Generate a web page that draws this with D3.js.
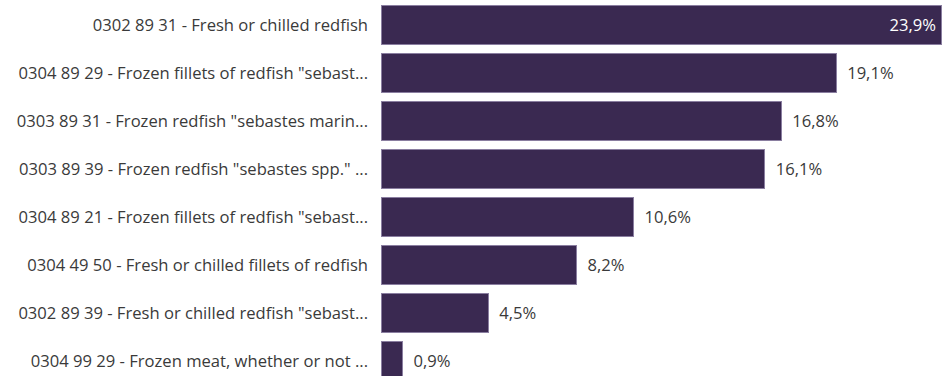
<!DOCTYPE html>
<html>
<head>
<meta charset="utf-8">
<script src="https://cdn.jsdelivr.net/npm/d3@7"></script>
<style>
  html, body { margin: 0; padding: 0; background: #ffffff; }
  svg { display: block; }
  text { font-family: "Open Sans", "Noto Sans", sans-serif; }
</style>
</head>
<body>
<div id="chart"></div>
<script>
// Share of imports by CN product code (%)
const categories = [
  "0302 89 31 - Fresh or chilled redfish",
  "0304 89 29 - Frozen fillets of redfish \"sebast...",
  "0303 89 31 - Frozen redfish \"sebastes marin...",
  "0303 89 39 - Frozen redfish \"sebastes spp.\" ...",
  "0304 89 21 - Frozen fillets of redfish \"sebast...",
  "0304 49 50 - Fresh or chilled fillets of redfish",
  "0302 89 39 - Fresh or chilled redfish \"sebast...",
  "0304 99 29 - Frozen meat, whether or not ..."
];
const shares = [23.9, 19.1, 16.8, 16.1, 10.6, 8.2, 4.5, 0.9];

const width = 944, height = 376;
const barLeft = 381, barRight = 941;
const labelRight = 368;
const fontSize = 16.6;

const svg = d3.select("#chart").append("svg")
  .attr("width", width)
  .attr("height", height);

const x = d3.scaleLinear()
  .domain([0, 23.5])
  .range([barLeft, barRight])
  .clamp(true);

const y = d3.scaleBand()
  .domain(categories)
  .range([1, 1 + 48 * categories.length])
  .paddingInner(0.2)
  .paddingOuter(0.1);

const fmt = v => d3.format(".1f")(v).replace(".", ",") + "%";

const rows = svg.selectAll("g.row")
  .data(categories.map((c, i) => ({ c, v: shares[i], i })))
  .join("g")
  .attr("class", "row");

rows.append("rect")
  .attr("x", x(0))
  .attr("y", d => y(d.c))
  .attr("width", d => x(d.v) - x(0))
  .attr("height", y.bandwidth())
  .attr("fill", "#3a2951")
  .attr("stroke", "#8a7ea0")
  .attr("stroke-width", 1)
  .attr("shape-rendering", "crispEdges");

rows.append("text")
  .attr("x", labelRight)
  .attr("y", d => y(d.c) + y.bandwidth() / 2 + 2)
  .attr("text-anchor", "end")
  .attr("dominant-baseline", "middle")
  .attr("font-size", fontSize)
  .attr("fill", "#3a3a3a")
  .text(d => d.c);

rows.append("text")
  .attr("x", d => d.i === 0 ? x(d.v) - 5 : x(d.v) + 11)
  .attr("y", d => y(d.c) + y.bandwidth() / 2 + 2)
  .attr("text-anchor", d => d.i === 0 ? "end" : "start")
  .attr("dominant-baseline", "middle")
  .attr("font-size", fontSize)
  .attr("fill", d => d.i === 0 ? "#ffffff" : "#3a3a3a")
  .text(d => fmt(d.v));
</script>
</body>
</html>
